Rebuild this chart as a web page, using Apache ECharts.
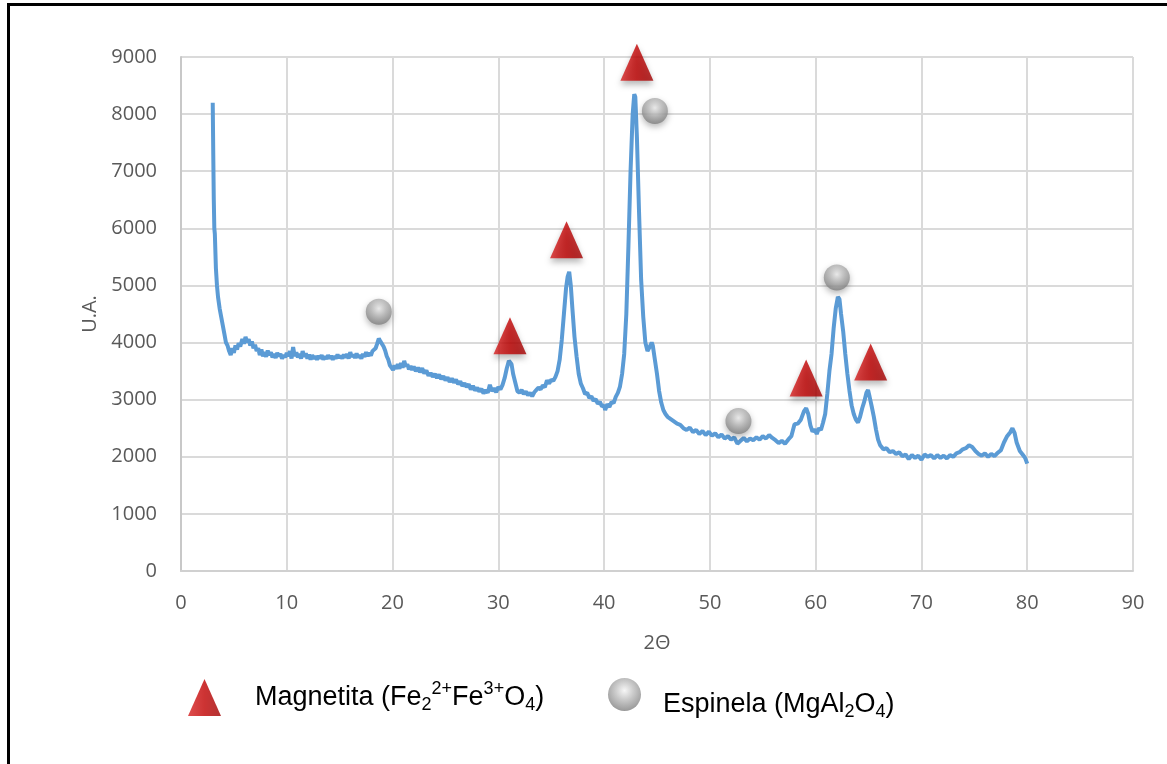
<!DOCTYPE html>
<html>
<head>
<meta charset="utf-8">
<title>DRX</title>
<script src="https://cdn.jsdelivr.net/npm/echarts@6/dist/echarts.min.js"></script>
<style>
    html, body { margin: 0; padding: 0; background: #fff; }
    #drx { width: 1167px; height: 764px; }
</style>
</head>
<body>
<div id="drx"></div>
<script>
//数据: 2θ 与强度
var twoTheta = [
    3.0, 3.05, 3.1, 3.15, 3.2, 3.3, 3.4, 3.5, 3.65, 3.8, 3.95, 4.1, 4.25, 4.4, 4.55, 4.7, 4.85, 5.0, 5.15, 5.3,
    5.45, 5.6, 5.8, 5.95, 6.1, 6.25, 6.4, 6.55, 6.7, 6.85, 7.0, 7.15, 7.3, 7.45, 7.6, 7.75, 7.9, 8.05, 8.2, 8.35,
    8.5, 8.65, 8.8, 8.95, 9.1, 9.25, 9.4, 9.55, 9.7, 9.85, 10.0, 10.15, 10.3, 10.45, 10.6, 10.75, 10.9, 11.05, 11.2, 11.35,
    11.5, 11.65, 11.8, 11.95, 12.1, 12.25, 12.4, 12.55, 12.7, 12.85, 13.0, 13.15, 13.3, 13.45, 13.6, 13.75, 13.9, 14.05, 14.2, 14.35,
    14.5, 14.65, 14.8, 14.95, 15.1, 15.25, 15.4, 15.55, 15.7, 15.85, 16.0, 16.15, 16.3, 16.45, 16.6, 16.75, 16.9, 17.05, 17.2, 17.35,
    17.5, 17.65, 17.8, 17.95, 18.1, 18.25, 18.4, 18.55, 18.7, 18.85, 19.0, 19.15, 19.3, 19.45, 19.6, 19.75, 19.9, 20.05, 20.2, 20.35,
    20.5, 20.65, 20.8, 20.95, 21.1, 21.25, 21.4, 21.55, 21.7, 21.85, 22.0, 22.2, 22.4, 22.6, 22.8, 23.0, 23.2, 23.4, 23.6, 23.8,
    24.0, 24.2, 24.4, 24.6, 24.8, 25.0, 25.2, 25.4, 25.6, 25.8, 26.0, 26.2, 26.4, 26.6, 26.8, 27.0, 27.2, 27.4, 27.6, 27.8,
    28.0, 28.2, 28.4, 28.6, 28.8, 29.0, 29.2, 29.4, 29.6, 29.8, 30.0, 30.2, 30.4, 30.6, 30.8, 31.0, 31.1, 31.25, 31.4, 31.6,
    31.8, 32.0, 32.2, 32.4, 32.6, 32.8, 33.0, 33.2, 33.4, 33.6, 33.8, 34.0, 34.2, 34.4, 34.6, 34.8, 35.0, 35.2, 35.4, 35.6,
    35.8, 36.0, 36.2, 36.4, 36.55, 36.7, 36.85, 37.0, 37.2, 37.4, 37.6, 37.8, 38.0, 38.2, 38.4, 38.6, 38.8, 39.0, 39.2, 39.4,
    39.6, 39.8, 40.0, 40.1, 40.3, 40.5, 40.7, 40.9, 41.1, 41.3, 41.5, 41.7, 41.9, 42.1, 42.3, 42.5, 42.7, 42.85, 42.95, 43.1,
    43.3, 43.5, 43.7, 43.9, 44.1, 44.3, 44.5, 44.6, 44.8, 45.0, 45.2, 45.4, 45.6, 45.8, 46.0, 46.3, 46.6, 46.9, 47.2, 47.5,
    47.8, 48.1, 48.4, 48.7, 49.0, 49.3, 49.6, 49.9, 50.2, 50.5, 50.8, 51.1, 51.4, 51.7, 52.0, 52.3, 52.6, 52.9, 53.2, 53.5,
    53.8, 54.1, 54.4, 54.7, 55.0, 55.3, 55.6, 55.9, 56.2, 56.5, 56.8, 57.1, 57.4, 57.7, 58.0, 58.3, 58.6, 58.9, 59.1, 59.3,
    59.5, 59.7, 59.9, 60.1, 60.3, 60.5, 60.7, 60.9, 61.1, 61.3, 61.5, 61.7, 61.9, 62.1, 62.25, 62.4, 62.6, 62.8, 63.0, 63.2,
    63.4, 63.6, 63.8, 64.0, 64.2, 64.4, 64.6, 64.8, 64.95, 65.1, 65.3, 65.5, 65.7, 65.9, 66.1, 66.4, 66.7, 67.0, 67.3, 67.6,
    67.9, 68.2, 68.5, 68.8, 69.1, 69.4, 69.7, 70.0, 70.3, 70.6, 70.9, 71.2, 71.5, 71.8, 72.1, 72.4, 72.7, 73.0, 73.3, 73.6,
    73.9, 74.2, 74.5, 74.8, 75.1, 75.4, 75.7, 76.0, 76.3, 76.6, 76.9, 77.2, 77.5, 77.8, 78.1, 78.4, 78.6, 78.8, 79.0, 79.3,
    79.6, 79.8, 80.0
];
var intensity = [
    8200, 7300, 6500, 6000, 5900, 5300, 5000, 4800, 4600, 4450, 4300, 4150, 4000, 3950, 3850, 3780, 3900, 3820, 3950, 3880,
    3990, 3930, 4060, 3980, 4100, 4000, 4060, 3950, 4020, 3900, 3960, 3850, 3900, 3780, 3880, 3760, 3830, 3750, 3860, 3780,
    3830, 3740, 3800, 3730, 3820, 3760, 3800, 3720, 3780, 3740, 3820, 3760, 3850, 3720, 3920, 3760, 3830, 3740, 3800, 3720,
    3850, 3750, 3810, 3720, 3790, 3700, 3780, 3720, 3760, 3700, 3770, 3720, 3780, 3700, 3760, 3710, 3780, 3720, 3770, 3700,
    3760, 3720, 3790, 3730, 3770, 3720, 3790, 3740, 3800, 3720, 3830, 3750, 3790, 3730, 3810, 3740, 3780, 3720, 3800, 3750,
    3830, 3760, 3820, 3770, 3850, 3820, 3900, 3980, 4070, 4020, 4040, 3930, 3860, 3760, 3700, 3600, 3560, 3520, 3600, 3540,
    3620, 3540, 3640, 3560, 3680, 3580, 3620, 3530, 3590, 3520, 3580, 3500, 3560, 3480, 3550, 3460, 3510, 3420, 3470, 3400,
    3450, 3380, 3440, 3360, 3410, 3340, 3390, 3310, 3370, 3300, 3350, 3270, 3320, 3240, 3290, 3220, 3270, 3180, 3240, 3160,
    3210, 3140, 3190, 3110, 3170, 3120, 3260, 3150, 3200, 3130, 3220, 3180, 3260, 3380, 3550, 3680, 3700, 3620, 3450, 3300,
    3150, 3120, 3170, 3100, 3140, 3080, 3120, 3060, 3130, 3170, 3210, 3180, 3250, 3220, 3340, 3280, 3350, 3330, 3400, 3500,
    3700, 4050, 4500, 4950, 5150, 5240, 5000, 4600, 4100, 3750, 3450, 3280, 3200, 3100, 3120, 3030, 3060, 2980, 3010, 2930,
    2960, 2880, 2900, 2820, 2920, 2870, 2960, 2940, 3050, 3120, 3230, 3450, 3800, 4500, 5700, 7000, 8000, 8350, 8300, 7600,
    6300, 5100, 4450, 4000, 3850, 3920, 4000, 3950, 3700, 3450, 3150, 2950, 2820, 2750, 2700, 2660, 2620, 2580, 2560, 2500,
    2470, 2510, 2430, 2470, 2400, 2450, 2380, 2440, 2370, 2410, 2340, 2390, 2320, 2360, 2300, 2340, 2230, 2280, 2330, 2270,
    2320, 2290, 2340, 2300, 2360, 2320, 2380, 2330, 2290, 2240, 2280, 2230, 2300, 2360, 2570, 2580, 2650, 2800, 2850, 2750,
    2550, 2440, 2480, 2400, 2500, 2470, 2600, 2750, 3100, 3500, 3800, 4250, 4600, 4800, 4760, 4500, 4200, 3800, 3450, 3150,
    2900, 2750, 2650, 2600, 2700, 2850, 2970, 3120, 3170, 3050, 2880, 2700, 2480, 2300, 2200, 2130, 2150, 2080, 2100, 2050,
    2080, 2010, 2040, 1960, 2030, 1980, 2020, 1950, 2040, 2000, 2030, 1970, 2030, 1980, 2020, 1970, 2030, 2000, 2060, 2080,
    2130, 2150, 2200, 2170, 2100, 2050, 2020, 2060, 2000, 2050, 2010, 2070, 2110, 2250, 2360, 2430, 2500, 2420, 2250, 2100,
    2030, 1980, 1880
];

//标记位置: 磁铁矿 (三角形) 与 尖晶石 (球)
var magnetitaX = [31.1, 36.45, 43.1, 59.1, 65.2];
var magnetitaY = [4120, 5800, 8910, 3380, 3660];
var espinelaX = [18.7, 44.8, 52.7, 62.0];
var espinelaY = [4540, 8055, 2625, 5140];

//坐标轴刻度
var xMin = 0, xMax = 90, xStep = 10;
var yMin = 0, yMax = 9000, yStep = 1000;

//组合数据
var drxData = [];
for (var i = 0; i < twoTheta.length; i++) {
    drxData.push([twoTheta[i], intensity[i]]);
}
var magData = [];
for (var j = 0; j < magnetitaX.length; j++) {
    magData.push([magnetitaX[j], magnetitaY[j]]);
}
var espData = [];
for (var k = 0; k < espinelaX.length; k++) {
    espData.push([espinelaX[k], espinelaY[k]]);
}

var drxChart = echarts.init(document.getElementById("drx"), null, { renderer: "canvas" });

//图例文字 (上下标)
var legendRich = {
    m: { fontSize: 27, fontFamily: "Liberation Sans", color: "#000", verticalAlign: "middle", lineHeight: 34 },
    sb: { fontSize: 18, fontFamily: "Liberation Sans", color: "#000", verticalAlign: "bottom", lineHeight: 18 },
    sp: { fontSize: 18, fontFamily: "Liberation Sans", color: "#000", verticalAlign: "top", lineHeight: 22 }
};

var triColor = new echarts.graphic.LinearGradient(0, 0, 1, 0, [
    { offset: 0, color: "#d62020" },
    { offset: 0.5, color: "#c00000" },
    { offset: 1, color: "#a00000" }
]);
var ballColor = new echarts.graphic.RadialGradient(0.5, 0.38, 0.62, [
    { offset: 0, color: "#f4f4f4" },
    { offset: 0.45, color: "#bdbdbd" },
    { offset: 1, color: "#7f7f7f" }
]);

var option = {
    animation: false,
    backgroundColor: "#fff",
    grid: {
        left: 181,
        top: 57,
        right: 34,
        bottom: 193
    },
    xAxis: {
        type: "value",
        min: xMin,
        max: xMax,
        interval: xStep,
        name: "2Θ",
        nameLocation: "middle",
        nameGap: 62,
        nameTextStyle: { fontFamily: "Open Sans", fontSize: 20, color: "#595959" },
        axisLine: { show: true, lineStyle: { color: "#d0d0d0", width: 2 } },
        axisTick: { show: false },
        axisLabel: { margin: 22, fontFamily: "Open Sans", fontSize: 20, color: "#595959" },
        splitLine: { show: true, lineStyle: { color: "#dadada", width: 2 } }
    },
    yAxis: {
        type: "value",
        min: yMin,
        max: yMax,
        interval: yStep,
        name: "U.A.",
        nameLocation: "middle",
        nameGap: 80,
        nameRotate: 90,
        nameTextStyle: { fontFamily: "Open Sans", fontSize: 20, color: "#595959" },
        axisLine: { show: true, lineStyle: { color: "#c8c8c8", width: 2 } },
        axisTick: { show: false },
        axisLabel: {
            margin: 24,
            fontFamily: "Open Sans",
            fontSize: 20,
            color: "#595959",
            formatter: function(v) {
                return String(v);
            }
        },
        splitLine: { show: true, lineStyle: { color: "#dadada", width: 2 } }
    },
    legend: [
        {
            data: ["Magnetita"],
            left: 183,
            top: 674,
            itemWidth: 33,
            itemHeight: 37,
            selectedMode: false,
            icon: "triangle",
            textStyle: { padding: [0, 0, 0, 29], rich: legendRich },
            formatter: function() {
                return "{m|Magnetita (Fe}{sb|2}{sp|2+}{m|Fe}{sp|3+}{m|O}{sb|4}{m|)}";
            }
        },
        {
            data: ["Espinela"],
            left: 603,
            top: 673,
            itemWidth: 33,
            itemHeight: 37,
            selectedMode: false,
            icon: "circle",
            textStyle: { padding: [20, 0, 0, 17], rich: legendRich },
            formatter: function() {
                return "{m|Espinela (MgAl}{sb|2}{m|O}{sb|4}{m|)}";
            }
        }
    ],
    graphic: [
        {
            type: "rect",
            left: 6,
            top: 2,
            shape: { width: 1300, height: 900 },
            style: { fill: null, stroke: "#000", lineWidth: 3 },
            silent: true
        }
    ],
    series: [
        {
            name: "DRX",
            type: "line",
            data: drxData,
            showSymbol: false,
            lineStyle: { color: "#5b9bd5", width: 4 },
            itemStyle: { color: "#5b9bd5" },
            z: 2
        },
        {
            name: "Magnetita",
            type: "scatter",
            data: magData,
            symbol: "triangle",
            symbolSize: [33, 37],
            itemStyle: {
                color: triColor,
                shadowColor: "rgba(0,0,0,0.35)",
                shadowBlur: 6,
                shadowOffsetY: 4
            },
            z: 5
        },
        {
            name: "Espinela",
            type: "scatter",
            data: espData,
            symbol: "circle",
            symbolSize: 26,
            itemStyle: {
                color: ballColor,
                shadowColor: "rgba(0,0,0,0.35)",
                shadowBlur: 6,
                shadowOffsetY: 3
            },
            z: 5
        }
    ]
};

drxChart.setOption(option);
</script>
</body>
</html>
